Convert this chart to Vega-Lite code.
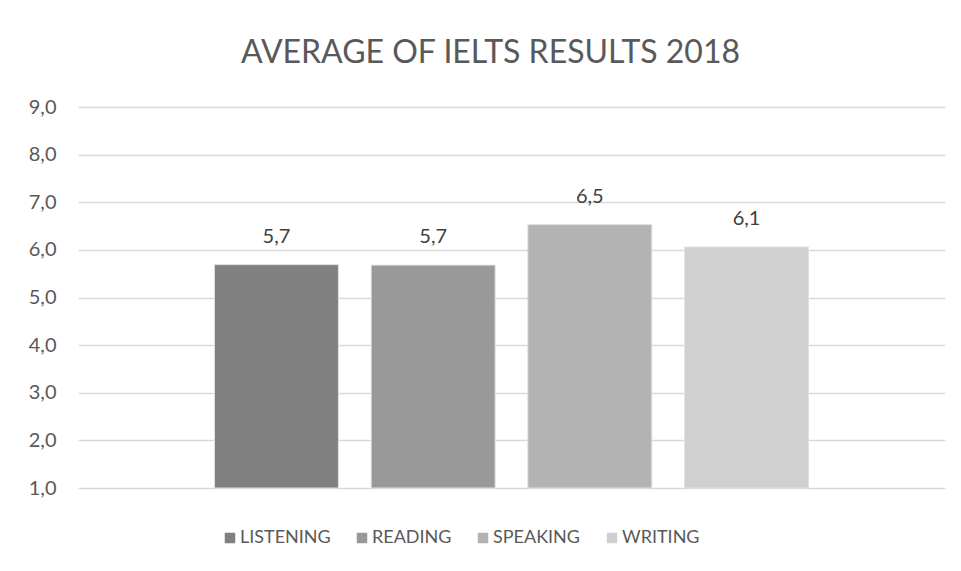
{
  "$schema": "https://vega.github.io/schema/vega-lite/v6.json",
  "width": 867,
  "height": 381,
  "autosize": {"type": "none"},
  "padding": {"left": 78, "top": 107, "right": 16, "bottom": 83},
  "background": "white",
  "title": {
    "text": "AVERAGE OF IELTS RESULTS 2018",
    "font": "Lato",
    "fontSize": 32,
    "fontWeight": "normal",
    "color": "#595959",
    "anchor": "middle",
    "dx": -21,
    "baseline": "alphabetic",
    "offset": 2
  },
  "data": {
    "values": [
      {"skill": "LISTENING", "score": 5.69},
      {"skill": "READING", "score": 5.68},
      {"skill": "SPEAKING", "score": 6.53},
      {"skill": "WRITING", "score": 6.06}
    ]
  },
  "encoding": {
    "x": {
      "field": "skill",
      "type": "nominal",
      "sort": ["LISTENING", "READING", "SPEAKING", "WRITING"],
      "scale": {"paddingInner": 0.209, "paddingOuter": 0.871},
      "axis": null
    },
    "y": {
      "field": "score",
      "type": "quantitative",
      "scale": {"domain": [1, 9], "nice": false, "zero": false},
      "axis": {
        "title": null,
        "values": [1, 2, 3, 4, 5, 6, 7, 8, 9],
        "format": ".1f",
        "domain": false,
        "ticks": false,
        "labelPadding": 22,
        "labelFont": "Lato",
        "labelFontSize": 20,
        "labelColor": "#595959",
        "gridColor": "#d9d9d9",
        "gridWidth": 1.3
      }
    }
  },
  "layer": [
    {
      "mark": {"type": "bar", "stroke": "#e0e0e0", "strokeWidth": 1},
      "encoding": {
        "y2": {"datum": 1},
        "color": {
          "field": "skill",
          "type": "nominal",
          "sort": ["LISTENING", "READING", "SPEAKING", "WRITING"],
          "scale": {
            "domain": ["LISTENING", "READING", "SPEAKING", "WRITING"],
            "range": ["#808080", "#999999", "#b3b3b3", "#d0d0d0"]
          },
          "legend": {
            "title": null,
            "orient": "none",
            "legendX": 143,
            "legendY": 422,
            "direction": "horizontal",
            "symbolType": "square",
            "symbolSize": 110,
            "symbolStrokeWidth": 0,
            "labelFont": "Lato",
            "labelFontSize": 18,
            "labelColor": "#595959",
            "labelOffset": 1,
            "columnPadding": 22
          }
        }
      }
    },
    {
      "mark": {
        "type": "text",
        "baseline": "alphabetic",
        "dy": -22,
        "font": "Lato",
        "fontSize": 20,
        "color": "#404040"
      },
      "encoding": {
        "text": {"field": "score", "type": "quantitative", "format": ".1f"}
      }
    }
  ],
  "config": {
    "view": {"stroke": null},
    "locale": {
      "number": {"decimal": ",", "thousands": ".", "grouping": [3], "currency": ["", " €"]}
    }
  }
}
